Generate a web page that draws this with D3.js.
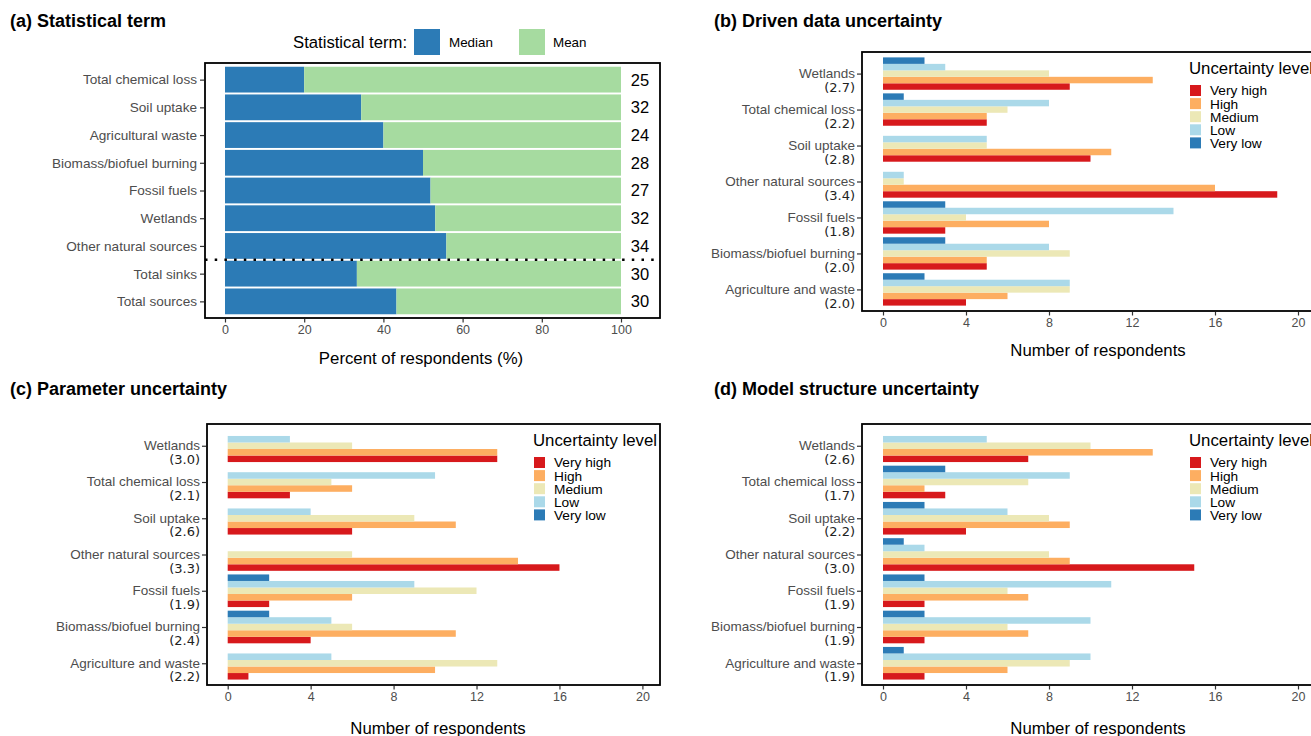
<!DOCTYPE html>
<html>
<head>
<meta charset="utf-8">
<script src="https://cdn.jsdelivr.net/npm/d3@7/dist/d3.min.js"></script>
<style>
  html, body { margin: 0; padding: 0; background: #fff; }
  svg { display: block; }
</style>
</head>
<body>
<svg id="chart" width="1311" height="736"></svg>
<script>
// ---------- Panel (a): statistical term ----------
const termCategories = ["Total chemical loss", "Soil uptake", "Agricultural waste", "Biomass/biofuel burning",
  "Fossil fuels", "Wetlands", "Other natural sources", "Total sinks", "Total sources"];
const medianPercent = [20.0, 34.4, 40.0, 50.0, 51.9, 53.1, 55.9, 33.3, 43.3];
const respondentCounts = [25, 32, 24, 28, 27, 32, 34, 30, 30];
const termKeys = ["Median", "Mean"];
const percentTicks = [0, 20, 40, 60, 80, 100];

// ---------- Panels (b)-(d): uncertainty by source/sink ----------
const sourceCategories = ["Wetlands", "Total chemical loss", "Soil uptake", "Other natural sources",
  "Fossil fuels", "Biomass/biofuel burning", "Agriculture and waste"];
const uncertaintyLevels = ["Very high", "High", "Medium", "Low", "Very low"];
const countTicks = [0, 4, 8, 12, 16, 20];

// Driven data uncertainty
const drivenScores   = ["(2.7)", "(2.2)", "(2.8)", "(3.4)", "(1.8)", "(2.0)", "(2.0)"];
const drivenVeryHigh = [9, 5, 10, 19, 3, 5, 4];
const drivenHigh     = [13, 5, 11, 16, 8, 5, 6];
const drivenMedium   = [8, 6, 5, 1, 4, 9, 9];
const drivenLow      = [3, 8, 5, 1, 14, 8, 9];
const drivenVeryLow  = [2, 1, 0, 0, 3, 3, 2];

// Parameter uncertainty
const paramScores   = ["(3.0)", "(2.1)", "(2.6)", "(3.3)", "(1.9)", "(2.4)", "(2.2)"];
const paramVeryHigh = [13, 3, 6, 16, 2, 4, 1];
const paramHigh     = [13, 6, 11, 14, 6, 11, 10];
const paramMedium   = [6, 5, 9, 6, 12, 6, 13];
const paramLow      = [3, 10, 4, 0, 9, 5, 5];
const paramVeryLow  = [0, 0, 0, 0, 2, 2, 0];

// Model structure uncertainty
const modelScores   = ["(2.6)", "(1.7)", "(2.2)", "(3.0)", "(1.9)", "(1.9)", "(1.9)"];
const modelVeryHigh = [7, 3, 4, 15, 2, 2, 2];
const modelHigh     = [13, 2, 9, 9, 7, 7, 6];
const modelMedium   = [10, 7, 8, 8, 6, 6, 9];
const modelLow      = [5, 9, 6, 2, 11, 10, 10];
const modelVeryLow  = [0, 3, 2, 1, 2, 2, 1];

// ---------- styling ----------
const SANS = "'Liberation Sans', Arial, Helvetica, sans-serif";
const NUMFONT = "'DejaVu Sans', Verdana, sans-serif";
const AXIS_TEXT = "#4d4d4d";
const TICK = "#333333";
const termColor = d3.scaleOrdinal().domain(termKeys).range(["#2c7bb6", "#a6dba0"]);
const levelColor = d3.scaleOrdinal().domain(uncertaintyLevels)
  .range(["#d7191c", "#fdae61", "#ece8b6", "#abd9e9", "#2c7bb6"]);

const svg = d3.select("#chart").style("font-family", SANS);
svg.append("rect").attr("width", 1311).attr("height", 736).attr("fill", "#fff");

function panelTitle(x, y, text) {
  svg.append("text").attr("x", x).attr("y", y).attr("font-size", 18).attr("font-weight", "bold")
    .attr("fill", "#000").text(text);
}

// ================= Panel (a) =================
(function drawPanelA() {
  const box = { left: 205, right: 660, top: 63, bottom: 318 };
  const g = svg.append("g");
  panelTitle(10, 27, "(a) Statistical term");

  const x = d3.scaleLinear().domain([0, 100]).range([225, 621]);
  const y = d3.scalePoint().domain(termCategories).range([box.top, box.bottom]).padding(0.6);
  const barH = y.step() * 0.93;

  const rows = termCategories.map((c, i) => ({ cat: c, median: medianPercent[i], n: respondentCounts[i] }));

  // stacked bars: median share then mean share up to 100 %
  const stack = g.append("g");
  rows.forEach(r => {
    const parts = [
      { key: "Median", x0: 0, x1: r.median },
      { key: "Mean", x0: r.median, x1: 100 }
    ];
    stack.selectAll(null).data(parts).enter().append("rect")
      .attr("x", d => x(d.x0)).attr("width", d => x(d.x1) - x(d.x0))
      .attr("y", y(r.cat) - barH / 2).attr("height", barH)
      .attr("fill", d => termColor(d.key));
  });

  // respondent counts to the right of each bar
  g.selectAll(".n").data(rows).enter().append("text")
    .attr("x", x(104.8)).attr("y", d => y(d.cat)).attr("dy", "0.36em")
    .attr("text-anchor", "middle").attr("font-size", 16.5).attr("fill", "#000")
    .text(d => d.n);

  // separator between individual terms and the totals
  const sepY = (y("Other natural sources") + y("Total sinks")) / 2;
  g.append("line").attr("x1", box.left).attr("x2", box.right).attr("y1", sepY).attr("y2", sepY)
    .attr("stroke", "#000").attr("stroke-width", 2.5).attr("stroke-dasharray", "2.5,7.2");

  // frame
  g.append("rect").attr("x", box.left).attr("y", box.top)
    .attr("width", box.right - box.left).attr("height", box.bottom - box.top)
    .attr("fill", "none").attr("stroke", "#000").attr("stroke-width", 1.8);

  // x axis
  const xAxis = d3.axisBottom(x).tickValues(percentTicks).tickSize(3.5).tickPadding(3);
  const xa = g.append("g").attr("transform", `translate(0,${box.bottom + 1})`).call(xAxis);
  xa.select(".domain").remove();
  xa.selectAll(".tick line").attr("stroke", TICK).attr("stroke-width", 1.2);
  xa.selectAll(".tick text").attr("font-size", 12.5).attr("fill", AXIS_TEXT).attr("font-family", SANS);

  // y axis
  const yAxis = d3.axisLeft(y).tickSize(4).tickPadding(3);
  const ya = g.append("g").attr("transform", `translate(${box.left - 1},0)`).call(yAxis);
  ya.select(".domain").remove();
  ya.selectAll(".tick line").attr("stroke", TICK).attr("stroke-width", 1.2);
  ya.selectAll(".tick text").attr("font-size", 13.6).attr("fill", AXIS_TEXT).attr("font-family", SANS);

  // x title
  g.append("text").attr("x", 421).attr("y", 364).attr("text-anchor", "middle")
    .attr("font-size", 16.8).attr("fill", "#000").text("Percent of respondents (%)");

  // legend
  const lg = g.append("g");
  lg.append("text").attr("x", 293).attr("y", 48).attr("font-size", 16.7).attr("fill", "#000")
    .text("Statistical term:");
  const legendItems = [{ key: "Median", sx: 414, tx: 449 }, { key: "Mean", sx: 519, tx: 553 }];
  legendItems.forEach(it => {
    lg.append("rect").attr("x", it.sx).attr("y", 29).attr("width", 26).attr("height", 26)
      .attr("fill", termColor(it.key));
    lg.append("text").attr("x", it.tx).attr("y", 42).attr("dy", "0.36em")
      .attr("font-size", 13.4).attr("fill", "#000").text(it.key);
  });
})();

// ================= Panels (b)-(d) =================
function uncertaintyPanel(opt) {
  const g = svg.append("g");
  panelTitle(opt.titleX, opt.titleY, opt.title);

  const x = d3.scaleLinear().domain([0, 20]).range([opt.x0, opt.x20]);
  const y = d3.scalePoint().domain(sourceCategories).range([opt.top, opt.bottom]).padding(0.6);
  const groupH = y.step() * 0.9;
  // slots from top to bottom within each group: Very low ... Very high
  const slotOrder = uncertaintyLevels.slice().reverse();
  const slot = d3.scaleBand().domain(slotOrder).range([-groupH / 2, groupH / 2]);

  const seriesByLevel = {
    "Very high": opt.veryHigh, "High": opt.high, "Medium": opt.medium, "Low": opt.low, "Very low": opt.veryLow
  };
  const bars = [];
  sourceCategories.forEach((c, i) => {
    uncertaintyLevels.forEach(l => {
      bars.push({ cat: c, level: l, value: seriesByLevel[l][i] });
    });
  });

  g.append("g").selectAll("rect").data(bars.filter(d => d.value > 0)).enter().append("rect")
    .attr("x", x(0)).attr("width", d => x(d.value) - x(0))
    .attr("y", d => y(d.cat) + slot(d.level)).attr("height", slot.bandwidth())
    .attr("fill", d => levelColor(d.level));

  // frame
  g.append("rect").attr("x", opt.left).attr("y", opt.top)
    .attr("width", opt.right - opt.left).attr("height", opt.bottom - opt.top)
    .attr("fill", "none").attr("stroke", "#000").attr("stroke-width", 1.8);

  // x axis
  const xAxis = d3.axisBottom(x).tickValues(countTicks).tickSize(3.5).tickPadding(3);
  const xa = g.append("g").attr("transform", `translate(0,${opt.bottom + 1})`).call(xAxis);
  xa.select(".domain").remove();
  xa.selectAll(".tick line").attr("stroke", TICK).attr("stroke-width", 1.2);
  xa.selectAll(".tick text").attr("font-size", 12.5).attr("fill", AXIS_TEXT).attr("font-family", SANS);

  g.append("text").attr("x", opt.xTitleX).attr("y", opt.xTitleY).attr("text-anchor", "middle")
    .attr("font-size", 16.8).attr("fill", "#000").text("Number of respondents");

  // y axis: category name on the tick, mean score just beneath it
  const yAxis = d3.axisLeft(y).tickSize(4).tickPadding(3).tickFormat(() => "");
  const ya = g.append("g").attr("transform", `translate(${opt.left - 1},0)`).call(yAxis);
  ya.select(".domain").remove();
  ya.selectAll(".tick line").attr("stroke", TICK).attr("stroke-width", 1.2);
  const labels = g.append("g");
  sourceCategories.forEach((c, i) => {
    labels.append("text").attr("x", opt.left - 7).attr("y", y(c) - 0.5).attr("dy", "0.36em")
      .attr("text-anchor", "end").attr("font-size", 13.5).attr("fill", AXIS_TEXT).text(c);
    labels.append("text").attr("x", opt.left - 7).attr("y", y(c) + 13.5).attr("dy", "0.36em")
      .attr("text-anchor", "end").attr("font-size", 13).attr("font-family", NUMFONT)
      .attr("fill", "#222").text(opt.scores[i]);
  });

  // legend
  const lg = g.append("g").attr("transform", `translate(${opt.legendX},${opt.legendY})`);
  lg.append("text").attr("x", 0).attr("y", 6).attr("font-size", 16.8).attr("fill", "#000")
    .text("Uncertainty level");
  uncertaintyLevels.forEach((l, i) => {
    const cy = 22.5 + i * 13.1;
    lg.append("rect").attr("x", 1).attr("y", cy - 5.5).attr("width", 11).attr("height", 11)
      .attr("fill", levelColor(l));
    lg.append("text").attr("x", 21).attr("y", cy).attr("dy", "0.36em")
      .attr("font-size", 13.7).attr("fill", "#000").text(l);
  });
}

uncertaintyPanel({
  title: "(b) Driven data uncertainty", titleX: 714, titleY: 27,
  left: 862, right: 1336, top: 52, bottom: 311, x0: 883, x20: 1298,
  xTitleX: 1098, xTitleY: 356, legendX: 1189, legendY: 68,
  veryHigh: drivenVeryHigh, high: drivenHigh, medium: drivenMedium, low: drivenLow, veryLow: drivenVeryLow,
  scores: drivenScores
});

uncertaintyPanel({
  title: "(c) Parameter uncertainty", titleX: 10, titleY: 395,
  left: 207, right: 660, top: 424, bottom: 685, x0: 227.7, x20: 642.4,
  xTitleX: 438, xTitleY: 734, legendX: 533, legendY: 440,
  veryHigh: paramVeryHigh, high: paramHigh, medium: paramMedium, low: paramLow, veryLow: paramVeryLow,
  scores: paramScores
});

uncertaintyPanel({
  title: "(d) Model structure uncertainty", titleX: 714, titleY: 395,
  left: 862, right: 1336, top: 424, bottom: 685, x0: 883, x20: 1298,
  xTitleX: 1098, xTitleY: 734, legendX: 1189, legendY: 440,
  veryHigh: modelVeryHigh, high: modelHigh, medium: modelMedium, low: modelLow, veryLow: modelVeryLow,
  scores: modelScores
});
</script>
</body>
</html>
